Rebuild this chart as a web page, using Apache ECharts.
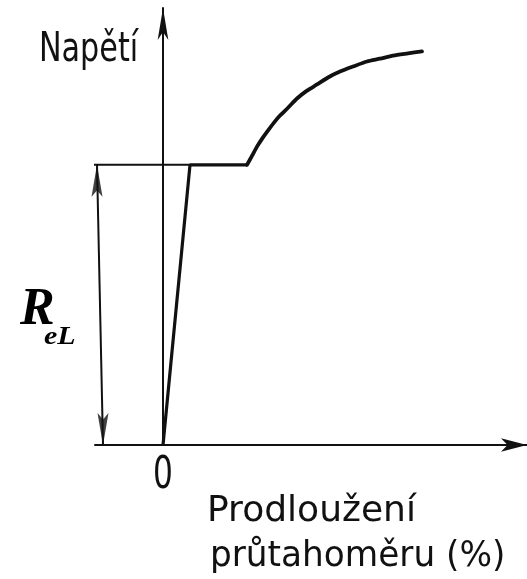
<!DOCTYPE html>
<html>
<head>
<meta charset="utf-8">
<script src="https://cdn.jsdelivr.net/npm/echarts@6/dist/echarts.min.js"></script>
<style>
html,body{margin:0;padding:0;background:#fff;}
#c{width:527px;height:579px;}
</style>
</head>
<body>
<div id="c"></div>
<script>
// strain (% of extensometer, arbitrary units) and stress (R_eL = 100)
const elasticPlateau = [[0, 0], [2.7, 100], [8.4, 100]];
const hardening = [[8.4, 100], [8.9, 103.2], [9.4, 106.5], [9.9, 109.3], [10.4, 111.8], [11.1, 115.1], [11.7, 117.6], [12.5, 120.4], [13.4, 123.7], [14.4, 126.5], [15.4, 128.7], [16.5, 131.2], [17.7, 133.3], [19.0, 135.1], [20.4, 136.9], [21.7, 137.9], [23.0, 139.0], [24.5, 139.8], [25.9, 140.5]];
const yieldLevel = 100;
const extensionLine = [[-7.5, yieldLevel], [2.7, yieldLevel]];
const relArrow = [[-6.6, yieldLevel], [-6.0, 0]];
const xRange = [-6.8, 36.4];
const yRange = [0, 156];
const yLabel = 'Napětí';
const xLabel1 = 'Prodloužení';
const xLabel2 = 'průtahoměru (%)';
const zeroLabel = '0';

const chart = echarts.init(document.getElementById('c'), null, {renderer: 'canvas'});
const ink = '#111';
const upArrow = 'path://M5,0 L10,40 L5,32 L0,40 Z';
const downArrow = 'path://M5,40 L10,0 L5,8 L0,0 Z';
chart.setOption({
  backgroundColor: '#fff',
  animation: false,
  grid: {left: 95, right: 0, top: 8, bottom: 134},
  xAxis: {
    type: 'value', min: xRange[0], max: xRange[1],
    axisLine: {show: true, onZero: true, symbol: ['none', 'arrow'], symbolSize: [10, 26], lineStyle: {color: ink, width: 2}},
    axisTick: {show: false}, axisLabel: {show: false}, splitLine: {show: false}
  },
  yAxis: {
    type: 'value', min: yRange[0], max: yRange[1],
    axisLine: {show: true, onZero: true, symbol: ['none', 'arrow'], symbolSize: [8, 32], lineStyle: {color: ink, width: 2}},
    axisTick: {show: false}, axisLabel: {show: false}, splitLine: {show: false}
  },
  series: [
    {type: 'line', data: extensionLine, symbol: 'none', clip: false, lineStyle: {color: ink, width: 2}},
    {type: 'line', data: elasticPlateau, symbol: 'none', lineStyle: {color: ink, width: 3.2}},
    {type: 'line', data: hardening, symbol: 'none', smooth: 0.25, lineStyle: {color: ink, width: 3.8, join: 'round', cap: 'round'}},
    {type: 'line', data: relArrow, symbol: 'none', clip: false, lineStyle: {color: ink, width: 2}},
    {type: 'scatter', clip: false, symbol: upArrow, symbolSize: [11, 32], symbolOffset: [0, 16],
     itemStyle: {color: ink}, data: [relArrow[0]]},
    {type: 'scatter', clip: false, symbol: downArrow, symbolSize: [11, 32], symbolOffset: [0, -16],
     itemStyle: {color: ink}, data: [relArrow[1]]}
  ],
  graphic: [
    {type: 'text', x: 39, y: 50, scaleX: 0.737, style: {text: yLabel, x: 0, y: 0, fill: ink, fontSize: 41, fontFamily: 'DejaVu Sans', verticalAlign: 'middle'}},
    {type: 'text', x: 153, y: 477, scaleX: 0.71, style: {text: zeroLabel, x: 0, y: 0, fill: ink, fontSize: 44, fontFamily: 'DejaVu Sans', verticalAlign: 'middle'}},
    {type: 'text', x: 207, y: 512, scaleX: 1.03, style: {text: xLabel1, x: 0, y: 0, fill: ink, fontSize: 35, fontFamily: 'DejaVu Sans', verticalAlign: 'middle'}},
    {type: 'text', x: 210, y: 557, scaleX: 0.98, style: {text: xLabel2, x: 0, y: 0, fill: ink, fontSize: 35, fontFamily: 'DejaVu Sans', verticalAlign: 'middle'}},
    {type: 'text', x: 20, y: 311, style: {text: 'R', x: 0, y: 0, fill: '#000', fontSize: 52, fontStyle: 'italic', fontWeight: 'bold', fontFamily: 'Liberation Serif', verticalAlign: 'middle'}},
    {type: 'text', x: 44, y: 338, scaleX: 1.2, style: {text: 'eL', x: 0, y: 0, fill: '#000', fontSize: 25, fontStyle: 'italic', fontWeight: 'bold', fontFamily: 'Liberation Serif', verticalAlign: 'middle'}}
  ]
});
</script>
</body>
</html>
